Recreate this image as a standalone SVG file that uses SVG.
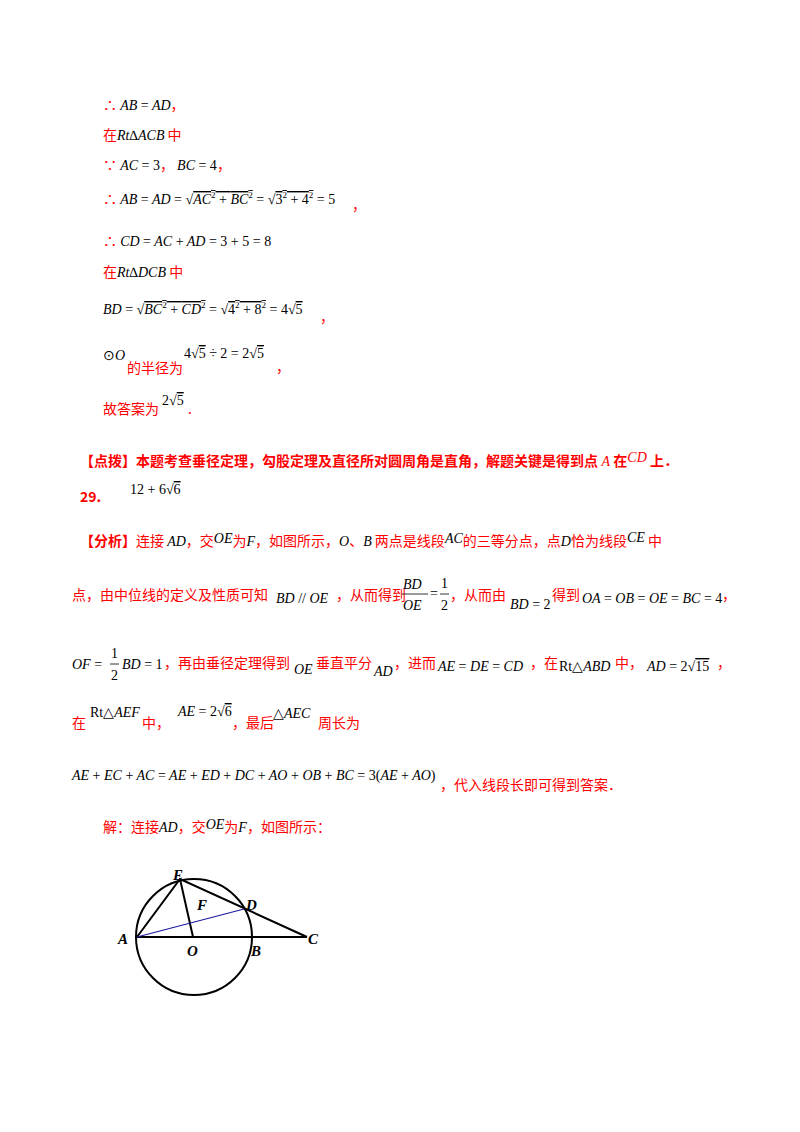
<svg xmlns="http://www.w3.org/2000/svg" width="800" height="1132" viewBox="0 0 800 1132">
<style>
.r{fill:#ff0000;font-family:"Noto Sans CJK SC","Noto Sans",sans-serif;font-size:14px;font-weight:normal}
.rb{fill:#ff0000;font-family:"Noto Sans CJK SC","Noto Sans",sans-serif;font-size:14px;font-weight:bold}
.m{fill:#000;font-family:"Liberation Serif",serif;font-size:14px;font-style:italic;font-weight:normal}
.mr{fill:#ff0000;font-family:"Liberation Serif",serif;font-size:14px;font-style:italic;font-weight:normal}
.n{font-style:normal}
.s{font-size:9px;font-style:normal}
.o{text-decoration:overline}
.g{fill:none;stroke:#000;stroke-width:2}
.lbl{fill:#000;font-family:"Liberation Serif",serif;font-size:15px;font-style:italic;font-weight:bold}
</style>
<rect width="800" height="1132" fill="#fff"/>
<g id="text">
<text x="103" y="110" class="r">∴ <tspan class="m">AB <tspan class="n">=</tspan> AD</tspan>，</text>
<text x="103" y="140" class="r">在<tspan class="m">Rt∆ACB</tspan> 中</text>
<text x="103" y="170" class="r">∵ <tspan class="m">AC <tspan class="n">= 3</tspan></tspan>， <tspan class="m">BC <tspan class="n">= 4</tspan></tspan>，</text>
<text x="103" y="204" class="r">∴ <tspan class="m">AB <tspan class="n">=</tspan> AD <tspan class="n">= √</tspan><tspan class="o">AC<tspan class="s" dy="-6">2</tspan><tspan class="n" dy="6"> + </tspan>BC<tspan class="s" dy="-6">2</tspan></tspan><tspan class="n" dy="6"> = √</tspan><tspan class="n o">3<tspan class="s" dy="-6">2</tspan><tspan dy="6"> + 4</tspan><tspan class="s" dy="-6">2</tspan></tspan><tspan class="n" dy="6"> = 5</tspan></tspan></text>
<text x="352" y="210" class="r">，</text>
<text x="103" y="246" class="r">∴ <tspan class="m">CD <tspan class="n">=</tspan> AC <tspan class="n">+</tspan> AD <tspan class="n">= 3 + 5 = 8</tspan></tspan></text>
<text x="103" y="277" class="r">在<tspan class="m">Rt∆DCB</tspan> 中</text>
<text x="103" y="314" class="m">BD <tspan class="n">= √</tspan><tspan class="o">BC<tspan class="s" dy="-6">2</tspan><tspan class="n" dy="6"> + </tspan>CD<tspan class="s" dy="-6">2</tspan></tspan><tspan class="n" dy="6"> = √</tspan><tspan class="n o">4<tspan class="s" dy="-6">2</tspan><tspan dy="6"> + 8</tspan><tspan class="s" dy="-6">2</tspan></tspan><tspan class="n" dy="6"> = 4√</tspan><tspan class="n o">5</tspan></text>
<text x="320" y="322" class="r">，</text>
<text x="103" y="360" class="m"><tspan class="n">⊙</tspan>O</text>
<text x="127" y="373" class="r">的半径为</text>
<text x="184" y="358" class="m n">4√<tspan class="o">5</tspan> ÷ 2 = 2√<tspan class="o">5</tspan></text>
<text x="276" y="372" class="r">，</text>
<text x="103" y="414" class="r">故答案为</text>
<text x="162" y="405" class="m n">2√<tspan class="o">5</tspan></text>
<text x="188" y="414" class="r">.</text>
<text x="80" y="466" class="rb">【点拨】本题考查垂径定理，勾股定理及直径所对圆周角是直角，解题关键是得到点<tspan class="mr"> A </tspan>在<tspan class="mr" dy="-4">CD</tspan><tspan dy="4">  上．</tspan></text>
<text x="80" y="502" class="rb">29.</text>
<text x="130" y="494" class="m n">12 + 6√<tspan class="o">6</tspan></text>
<text x="80" y="546" class="rb">【分析】<tspan class="r">连接 </tspan><tspan class="m">AD</tspan><tspan class="r">，交</tspan><tspan class="m" dy="-3">OE</tspan><tspan class="r" dy="3">为</tspan><tspan class="m">F</tspan><tspan class="r">，如图所示，</tspan><tspan class="m">O</tspan><tspan class="r">、</tspan><tspan class="m">B</tspan><tspan class="r"> 两点是线段</tspan><tspan class="m" dy="-3">AC</tspan><tspan class="r" dy="3">的三等分点，点</tspan><tspan class="m">D</tspan><tspan class="r">恰为线段</tspan><tspan class="m" dy="-4">CE</tspan><tspan class="r" dy="4"> 中</tspan></text>
<text x="72" y="600" class="r">点，由中位线的定义及性质可知</text>
<text x="276" y="603" class="m">BD <tspan class="n">//</tspan> OE</text>
<text x="336" y="600" class="r">，从而得到</text>
<text x="403" y="589" class="m">BD</text>
<line x1="402" y1="594" x2="428" y2="594" stroke="#000" stroke-width="0.8"/>
<text x="403" y="610" class="m">OE</text>
<text x="430" y="598" class="m n">=</text>
<text x="441" y="588" class="m n">1</text>
<line x1="440" y1="594" x2="449" y2="594" stroke="#000" stroke-width="0.8"/>
<text x="441" y="610" class="m n">2</text>
<text x="450" y="600" class="r">，从而由</text>
<text x="510" y="609" class="m">BD <tspan class="n">= 2</tspan></text>
<text x="552" y="600" class="r">得到</text>
<text x="582" y="603" class="m" font-size="13.5">OA <tspan class="n">=</tspan> OB <tspan class="n">=</tspan> OE <tspan class="n">=</tspan> BC <tspan class="n">= 4</tspan></text>
<text x="722" y="600" class="r">，</text>
<text x="72" y="669" class="m">OF <tspan class="n">=</tspan></text>
<text x="111" y="658" class="m n">1</text>
<line x1="110" y1="664" x2="119" y2="664" stroke="#000" stroke-width="0.8"/>
<text x="111" y="680" class="m n">2</text>
<text x="122" y="669" class="m">BD <tspan class="n">= 1</tspan></text>
<text x="164" y="668" class="r">，再由垂径定理得到</text>
<text x="294" y="674" class="m">OE</text>
<text x="316" y="668" class="r">垂直平分</text>
<text x="374" y="676" class="m">AD</text>
<text x="394" y="668" class="r">，进而</text>
<text x="438" y="671" class="m">AE <tspan class="n">=</tspan> DE <tspan class="n">=</tspan> CD</text>
<text x="530" y="668" class="r">，在</text>
<text x="559" y="671" class="m"><tspan class="n">Rt△</tspan>ABD</text>
<text x="615" y="668" class="r">中，</text>
<text x="647" y="671" class="m">AD <tspan class="n">= 2√<tspan class="o">15</tspan></tspan></text>
<text x="717" y="668" class="r">，</text>
<text x="72" y="728" class="r">在</text>
<text x="90" y="717" class="m"><tspan class="n">Rt△</tspan>AEF</text>
<text x="142" y="728" class="r">中，</text>
<text x="178" y="716" class="m">AE <tspan class="n">= 2√<tspan class="o">6</tspan></tspan></text>
<text x="232" y="728" class="r">，最后</text>
<text x="273" y="718" class="m"><tspan class="n">△</tspan>AEC</text>
<text x="318" y="728" class="r">周长为</text>
<text x="72" y="780" class="m">AE <tspan class="n">+</tspan> EC <tspan class="n">+</tspan> AC <tspan class="n">=</tspan> AE <tspan class="n">+</tspan> ED <tspan class="n">+</tspan> DC <tspan class="n">+</tspan> AO <tspan class="n">+</tspan> OB <tspan class="n">+</tspan> BC <tspan class="n">= 3(</tspan>AE <tspan class="n">+</tspan> AO<tspan class="n">)</tspan></text>
<text x="440" y="790" class="r">，代入线段长即可得到答案．</text>
<text x="103" y="832" class="r">解：连接<tspan class="m">AD</tspan>，交<tspan class="m" dy="-3">OE</tspan><tspan dy="3">为</tspan><tspan class="m">F</tspan>，如图所示：</text>
</g>
<g id="figure">
<circle cx="194" cy="937" r="58" class="g"/>
<g id="connectors">
<line x1="137" y1="937" x2="307" y2="937" class="g"/>
<polyline points="137,937 180,879 307,937" class="g"/>
<line x1="180" y1="879" x2="193" y2="937" class="g"/>
<line x1="137" y1="937" x2="244" y2="909" stroke="#1a1aa0" stroke-width="1.2"/>
</g>
<text x="173" y="880" class="lbl">E</text>
<text x="197" y="910" class="lbl">F</text>
<text x="246" y="910" class="lbl">D</text>
<text x="118" y="944" class="lbl">A</text>
<text x="187" y="956" class="lbl">O</text>
<text x="251" y="956" class="lbl">B</text>
<text x="308" y="944" class="lbl">C</text>
</g>
</svg>
